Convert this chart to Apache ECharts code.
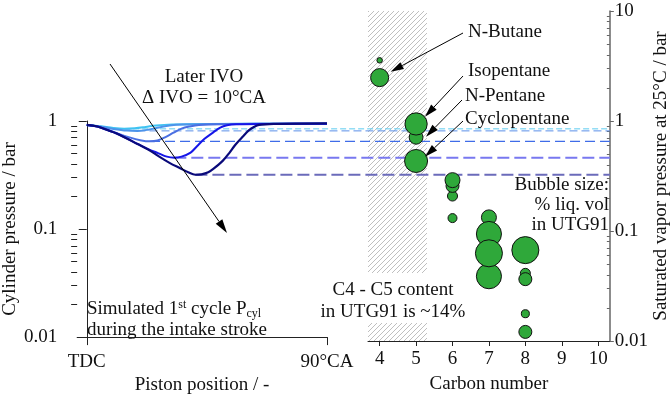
<!DOCTYPE html>
<html>
<head>
<meta charset="utf-8">
<script src="https://cdn.jsdelivr.net/npm/echarts@6/dist/echarts.min.js"></script>
<style>
  html, body { margin: 0; padding: 0; background: #fff; }
  #chart { width: 672px; height: 400px; }
</style>
</head>
<body>
<div id="chart"></div>
<script>
// ---------- Cylinder pressure during the intake stroke, one curve per IVO timing ----------
// points are [crank angle after TDC in °CA, pressure in bar]
const ivoNames = ['IVO +0', 'IVO +10', 'IVO +20', 'IVO +30', 'IVO +40'];
const pCylIvo0 = [[0,0.92],[5,0.895],[10,0.86],[14,0.846],[18,0.855],[22,0.88],[26,0.91],[32,0.93],[45,0.94],[90,0.945]];
const pCylIvo10 = [[0,0.92],[5,0.89],[10,0.845],[15,0.815],[19,0.81],[23,0.83],[27,0.87],[31,0.91],[36,0.93],[50,0.94],[90,0.945]];
const pCylIvo20 = [[0,0.92],[4,0.89],[8,0.83],[12,0.76],[16,0.705],[20,0.665],[23.7,0.648],[26.5,0.66],[29.5,0.71],[32.5,0.78],[35.5,0.85],[38.5,0.89],[42,0.92],[50,0.935],[90,0.945]];
const pCylIvo30 = [[0,0.92],[4,0.89],[8,0.82],[11,0.77],[15,0.69],[19,0.615],[23,0.55],[26.7,0.505],[30,0.468],[32.8,0.458],[35.5,0.468],[38.9,0.51],[41.3,0.584],[44,0.68],[47.4,0.785],[50,0.87],[52.5,0.915],[56,0.935],[70,0.94],[90,0.945]];
const pCylIvo40 = [[0,0.92],[4,0.89],[8,0.82],[11,0.77],[15,0.69],[19,0.612],[23,0.545],[27,0.47],[31,0.41],[35,0.365],[38,0.335],[40.7,0.318],[43,0.321],[45.5,0.335],[47.4,0.36],[51,0.43],[53.5,0.51],[55.6,0.6],[58.3,0.71],[60.7,0.82],[62.6,0.88],[64.5,0.92],[70,0.94],[90,0.95]];
const pCylCurves = [pCylIvo0, pCylIvo10, pCylIvo20, pCylIvo30, pCylIvo40];

// ---------- Gasoline components: carbon number, vapour pressure at 25 °C (bar), % liq. vol ----------
const carbonNumber  = [4,    4,    5,    5,     5,     6,    6,     6,     6,     7,     7,     7,      7,      8,     8,      8,      8,      8];
const vaporPressure = [3.56, 2.48, 0.94, 0.711, 0.433, 0.29, 0.257, 0.208, 0.131, 0.133, 0.094, 0.0627, 0.0388, 0.067, 0.0412, 0.0365, 0.0177, 0.0121];
const liqVolPct     = [0.27, 2.9,  4.4,  1.7,   4.7,   2.0,  1.5,   0.9,   0.72,  2.0,   5.6,   6.5,    5.6,    6.5,   0.9,    1.5,    0.57,   1.5];

// C4-C5 band on the carbon-number axis
const c4c5Band = [3.68, 5.3];

// ---------- Tick values and labels ----------
const leftXTicks = [0, 90];
const leftXTickLabels = ['TDC', '90°CA'];
const leftYTicks = [0.01, 0.1, 1];
const leftYTickLabels = ['0.01', '0.1', '1'];
const rightXTicks = [4, 5, 6, 7, 8, 9, 10];
const rightYTicks = [0.01, 0.1, 1, 10];
const rightYTickLabels = ['0.01', '0.1', '1', '10'];

// ---------- Styling ----------
const FONT = '"Liberation Serif", "DejaVu Serif", serif';
const FS = 19;
const curveColors = ['#3fc3f2', '#4d94ea', '#4a6fe2', '#1616e8', '#0a0a7a'];
const levelColors = ['#5ccbf0', '#5b8fe8', '#3f6ce8', '#7878f0', '#6b6bba'];
const levelWidths = [1, 1, 1.3, 2, 2];
const levelDash = [[6, 3], [8, 4], [10, 5], [12, 5], [12, 5]];

function logMinorTicks(lo, hi) {
  const out = [];
  for (let d = lo; d < hi * 0.999; d *= 10) {
    for (let k = 2; k <= 9; k++) out.push(+(d * k).toPrecision(3));
  }
  return out;
}

function hatchCanvas() {
  const s = 5;
  const c = document.createElement('canvas');
  c.width = s; c.height = s;
  const g = c.getContext('2d');
  g.strokeStyle = '#b8b8b8';
  g.lineWidth = 0.9;
  g.beginPath();
  g.moveTo(0, s); g.lineTo(s, 0);
  g.moveTo(-1, 1); g.lineTo(1, -1);
  g.moveTo(s - 1, s + 1); g.lineTo(s + 1, s - 1);
  g.stroke();
  return c;
}

const axisText = { fontFamily: FONT, fontSize: FS, color: '#111' };
const leftXMin = -3.6, leftXMax = 90;
const rightXMin = 3.68, rightXMax = 10.32;

const chart = echarts.init(document.getElementById('chart'), null, { renderer: 'canvas' });

const bubbleOrder = carbonNumber.map((_, i) => i).sort((a, b) => liqVolPct[a] - liqVolPct[b]);

const option = {
  animation: false,
  backgroundColor: '#fff',
  textStyle: { fontFamily: FONT },
  grid: [
    { left: 70, top: 121, width: 257, height: 220 },
    { left: 368, top: 11, width: 249, height: 330 }
  ],
  xAxis: [
    {
      type: 'value', gridIndex: 0, min: leftXMin, max: leftXMax,
      axisLine: { onZero: false, lineStyle: { color: '#222', width: 1 } },
      axisTick: { customValues: leftXTicks, length: 8, lineStyle: { color: '#222' } },
      axisLabel: Object.assign({ customValues: leftXTicks, margin: 15,
        formatter: v => leftXTickLabels[leftXTicks.indexOf(v)] }, axisText),
      splitLine: { show: false },
      name: 'Piston position / -', nameLocation: 'middle', nameGap: 38,
      nameTextStyle: axisText
    },
    {
      type: 'value', gridIndex: 1, min: rightXMin, max: rightXMax,
      axisLine: { onZero: false, lineStyle: { color: '#222', width: 1 } },
      axisTick: { customValues: rightXTicks, length: 5, lineStyle: { color: '#222' } },
      axisLabel: Object.assign({ customValues: rightXTicks, margin: 9 }, axisText),
      splitLine: { show: false },
      name: 'Carbon number', nameLocation: 'middle', nameGap: 34,
      nameTextStyle: axisText
    }
  ],
  yAxis: [
    {
      type: 'log', logBase: 10, gridIndex: 0, min: 0.01, max: 1, position: 'left',
      axisLine: { onZero: true, lineStyle: { color: '#222', width: 1 } },
      axisTick: { customValues: leftYTicks, length: 8, lineStyle: { color: '#222' } },
      axisLabel: Object.assign({ customValues: leftYTicks, margin: 20,
        formatter: v => leftYTickLabels[leftYTicks.findIndex(t => Math.abs(t - v) < 1e-9)] }, axisText),
      splitLine: { show: false },
      name: 'Cylinder pressure / bar', nameLocation: 'middle', nameGap: 50,
      nameTextStyle: axisText
    },
    {
      type: 'log', logBase: 10, gridIndex: 0, min: 0.01, max: 1, position: 'left',
      axisLine: { show: false, onZero: true },
      axisTick: { customValues: logMinorTicks(0.01, 1), length: 6, lineStyle: { color: '#222' } },
      axisLabel: { show: false },
      splitLine: { show: false }
    },
    {
      type: 'log', logBase: 10, gridIndex: 1, min: 0.01, max: 10, position: 'right',
      axisLine: { onZero: false, lineStyle: { color: '#666', width: 1.5 } },
      axisTick: { customValues: rightYTicks, length: 4, lineStyle: { color: '#666' } },
      axisLabel: Object.assign({ customValues: rightYTicks, margin: 5,
        formatter: v => rightYTickLabels[rightYTicks.findIndex(t => Math.abs(t - v) < 1e-9)] }, axisText),
      splitLine: { show: false },
      name: 'Saturated vapor pressure at 25°C / bar', nameLocation: 'middle', nameGap: 36, nameRotate: 90,
      nameTextStyle: axisText
    },
    {
      type: 'log', logBase: 10, gridIndex: 1, min: 0.01, max: 10, position: 'right',
      axisLine: { show: false, onZero: false },
      axisTick: { customValues: logMinorTicks(0.01, 10), inside: true, length: 3, lineStyle: { color: '#666' } },
      axisLabel: { show: false },
      splitLine: { show: false }
    }
  ],
  series: [
    ...pCylCurves.map((pts, i) => ({
      name: ivoNames[i], type: 'line', xAxisIndex: 0, yAxisIndex: 0,
      data: pts, smooth: 0.35, showSymbol: false, symbol: 'none',
      lineStyle: { color: curveColors[i], width: i === 4 ? 2.2 : 2 },
      z: 3 + i
    })),
    {
      name: 'Components', type: 'scatter', xAxisIndex: 1, yAxisIndex: 2,
      data: bubbleOrder.map(i => [carbonNumber[i], vaporPressure[i], liqVolPct[i]]),
      symbolSize: d => 10.6 * Math.sqrt(d[2]),
      itemStyle: { color: '#2fa83a', borderColor: '#111', borderWidth: 1, opacity: 1 },
      z: 5,
      markArea: {
        silent: true,
        itemStyle: { color: { image: hatchCanvas(), repeat: 'repeat' } },
        data: [[{ coord: [c4c5Band[0], 0.01] }, { coord: [c4c5Band[1], 10] }]]
      }
    }
  ]
};
chart.setOption(option);

// ---------- Annotations ----------
function arrow(x0, y0, x1, y1, head, half) {
  const a = Math.atan2(y1 - y0, x1 - x0);
  const bx = x1 - head * Math.cos(a), by = y1 - head * Math.sin(a);
  const nx = -Math.sin(a) * half, ny = Math.cos(a) * half;
  return [
    { type: 'line', z: 20, shape: { x1: x0, y1: y0, x2: bx, y2: by }, style: { stroke: '#000', lineWidth: 1 } },
    { type: 'polygon', z: 20, shape: { points: [[x1, y1], [bx + nx, by + ny], [bx - nx, by - ny]] }, style: { fill: '#000' } }
  ];
}
function label(text, x, y, align, extra) {
  return Object.assign({
    type: 'text', z: 21, x: x, y: y,
    style: Object.assign({ text: text, font: FS + 'px ' + FONT, fill: '#111', align: align || 'left', verticalAlign: 'middle' }, extra || {})
  });
}

const graphics = [];

// dashed levels from each curve's minimum across to the vapour-pressure axis
const xRightEdge = chart.convertToPixel({ xAxisIndex: 1 }, rightXMax);
pCylCurves.forEach((pts, i) => {
  const m = pts.reduce((a, b) => (b[1] < a[1] ? b : a));
  const p = chart.convertToPixel({ gridIndex: 0 }, m);
  graphics.push({
    type: 'line', z: 2.5, shape: { x1: p[0], y1: p[1], x2: xRightEdge, y2: p[1] },
    style: { stroke: levelColors[i], lineWidth: levelWidths[i], lineDash: levelDash[i] }
  });
});

graphics.push(...arrow(110, 64, 227, 233, 14, 4));
graphics.push(label('Later IVO\nΔ IVO = 10°CA', 204, 88, 'center', { lineHeight: 21 }));
graphics.push({
  type: 'text', z: 21, x: 87, y: 320,
  style: {
    text: '{n|Simulated 1}{sup|st}{n| cycle P}{sub|cyl}\n{n|during the intake stroke}',
    align: 'left', verticalAlign: 'middle', fill: '#111',
    rich: {
      n: { fontFamily: FONT, fontSize: FS, lineHeight: 21, fill: '#111' },
      sup: { fontFamily: FONT, fontSize: 12, lineHeight: 12, verticalAlign: 'top', fill: '#111' },
      sub: { fontFamily: FONT, fontSize: 12, lineHeight: 12, verticalAlign: 'bottom', fill: '#111' }
    }
  }
});

graphics.push(label('N-Butane', 468, 32));
graphics.push(...arrow(463, 33, 390.7, 71.7, 13, 3.8));
graphics.push(label('Isopentane', 468, 71));
graphics.push(...arrow(463, 76, 425, 116.7, 13, 3.8));
graphics.push(label('N-Pentane', 465, 96));
graphics.push(...arrow(462, 100, 426, 136.7, 13, 3.8));
graphics.push(label('Cyclopentane', 465, 119));
graphics.push(...arrow(463, 121, 425, 156.7, 13, 3.8));

graphics.push(label('Bubble size:\n% liq. vol\nin UTG91', 609, 205, 'right', { lineHeight: 20 }));
graphics.push({
  type: 'text', z: 21, x: 393, y: 273,
  style: {
    text: 'C4 - C5 content\nin UTG91 is ~14%', font: FS + 'px ' + FONT, fill: '#111',
    align: 'center', verticalAlign: 'top', lineHeight: 22,
    backgroundColor: '#fff', padding: [6, 2, 0, 2]
  }
});

chart.setOption({ graphic: { elements: graphics } });
</script>
</body>
</html>
